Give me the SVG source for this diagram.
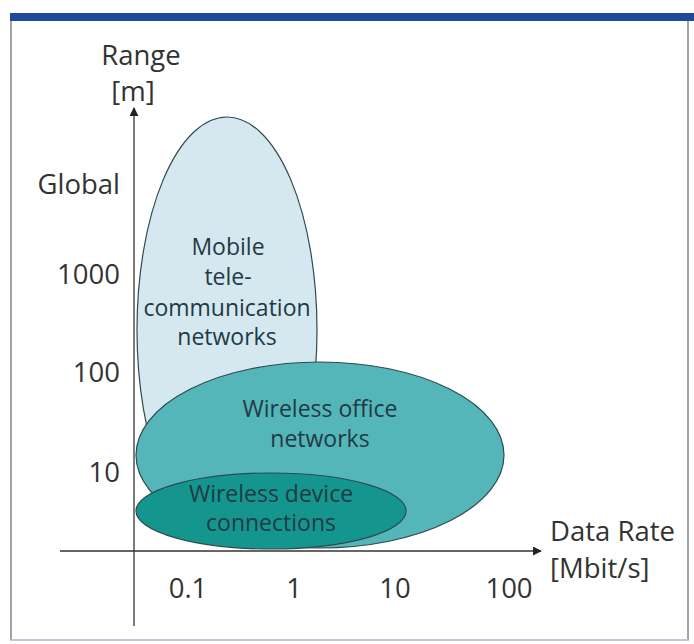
<svg xmlns="http://www.w3.org/2000/svg" width="694" height="644" viewBox="0 0 694 644">
  <style>
    .axis { stroke: #333; stroke-width: 1.3; fill: none; }
    .lbl { font-family: "Open Sans", "Noto Sans", sans-serif; font-size: 27.5px; fill: #333; }
    .in { font-family: "Open Sans", "Noto Sans", sans-serif; font-size: 23px; fill: #1f3a44; text-anchor: middle; }
    .shape { stroke: #2d4a50; stroke-width: 1.2; }
  </style>
  <defs>
    <marker id="arrow" viewBox="0 0 10 10" refX="9" refY="5" markerWidth="9" markerHeight="9" markerUnits="userSpaceOnUse" orient="auto">
      <path d="M0,0 L10,5 L0,10 z" fill="#222"/>
    </marker>
  </defs>
  <rect width="694" height="644" fill="#fff"/>
  <!-- frame -->
  <rect x="11" y="20" width="677" height="620" fill="none" stroke="#666" stroke-width="1.2"/>
  <rect x="10" y="13" width="684" height="8" fill="#1d4b9c"/>
  <line x1="11" y1="640" x2="688" y2="640" stroke="#c9c2dc" stroke-width="2"/>

  <g id="mobile">
    <ellipse class="shape" cx="227" cy="330" rx="90" ry="213" fill="#d5e8ef"/>
    <text class="in" x="228" y="255">Mobile</text>
    <text class="in" x="228" y="285">tele-</text>
    <text class="in" x="227" y="316">communication</text>
    <text class="in" x="227" y="345">networks</text>
  </g>
  <g id="office">
    <ellipse class="shape" cx="320" cy="455" rx="184" ry="93" fill="#55b6b9"/>
    <text class="in" x="320" y="417">Wireless office</text>
    <text class="in" x="320" y="447">networks</text>
  </g>
  <g id="device">
    <ellipse class="shape" cx="271" cy="511" rx="135" ry="38" fill="#14968f"/>
    <text class="in" x="271" y="502">Wireless device</text>
    <text class="in" x="271" y="531">connections</text>
  </g>

  <g id="axes">
    <line class="axis" x1="134" y1="626" x2="134" y2="108" marker-end="url(#arrow)"/>
    <line class="axis" x1="60" y1="551" x2="541" y2="551" marker-end="url(#arrow)"/>
  </g>

  <g id="labels">
    <text class="lbl" x="141" y="65" text-anchor="middle">Range</text>
    <text class="lbl" x="133" y="101" text-anchor="middle">[m]</text>
    <text class="lbl" x="120" y="194" text-anchor="end">Global</text>
    <text class="lbl" x="120" y="284" text-anchor="end">1000</text>
    <text class="lbl" x="120" y="382" text-anchor="end">100</text>
    <text class="lbl" x="120" y="482" text-anchor="end">10</text>
    <text class="lbl" x="188" y="598" text-anchor="middle">0.1</text>
    <text class="lbl" x="294" y="598" text-anchor="middle">1</text>
    <text class="lbl" x="395" y="598" text-anchor="middle">10</text>
    <text class="lbl" x="509" y="598" text-anchor="middle">100</text>
    <text class="lbl" x="550" y="541">Data Rate</text>
    <text class="lbl" x="550" y="578">[Mbit/s]</text>
  </g>
</svg>
